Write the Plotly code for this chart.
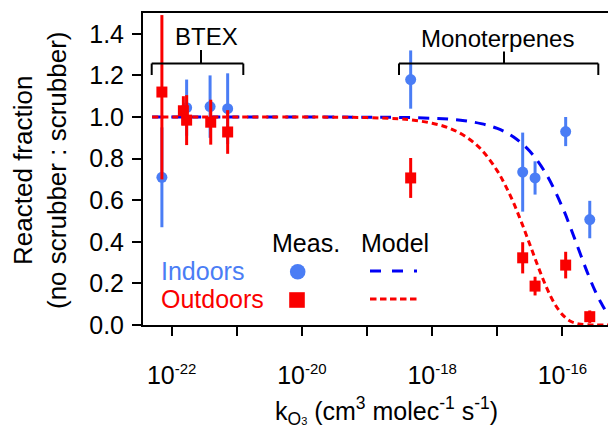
import plotly.graph_objects as go

# ---------------- data ----------------
# rate constants given as log10(k_O3)
indoor_logk = [-22.15, -21.77, -21.41, -21.14, -18.33, -16.61, -16.42, -15.95, -15.58]
indoor_val = [0.71, 1.045, 1.05, 1.04, 1.18, 0.735, 0.707, 0.93, 0.507]
indoor_err = [0.24, 0.135, 0.15, 0.17, 0.14, 0.19, 0.08, 0.07, 0.09]

outdoor_logk = [-22.15, -21.82, -21.77, -21.40, -21.14, -18.33, -16.61, -16.42, -15.95, -15.58]
outdoor_val = [1.12, 1.03, 0.985, 0.975, 0.928, 0.707, 0.323, 0.187, 0.288, 0.04]
outdoor_err_up = [0.37, 0.07, 0.12, 0.108, 0.105, 0.096, 0.075, 0.045, 0.064, 0.03]
outdoor_err_down = [0.42, 0.07, 0.12, 0.108, 0.105, 0.096, 0.075, 0.045, 0.064, 0.03]

model_in_logk = [-22.3, -20.0, -19.0, -18.5, -18.0, -17.75, -17.5, -17.25, -17.0, -16.75,
                 -16.5, -16.25, -16.0, -15.875, -15.75, -15.625, -15.5, -15.4, -15.3, -15.2]
model_in_val = [1.000, 1.000, 0.999, 0.998, 0.994, 0.990, 0.982, 0.968, 0.945, 0.904,
                0.835, 0.726, 0.566, 0.468, 0.363, 0.259, 0.165, 0.103, 0.052, 0.022]

model_out_logk = [-22.3, -20.0, -19.0, -18.5, -18.25, -18.0, -17.75, -17.5, -17.25, -17.0,
                  -16.875, -16.75, -16.625, -16.5, -16.375, -16.25, -16.125, -16.0,
                  -15.875, -15.75, -15.5, -15.2]
model_out_val = [1.000, 1.000, 0.997, 0.991, 0.983, 0.970, 0.948, 0.909, 0.845, 0.741,
                 0.670, 0.587, 0.491, 0.387, 0.282, 0.185, 0.105, 0.050,
                 0.018, 0.005, 0.000, 0.000]

x_tick_exp = [-22, -21, -20, -19, -18, -17, -16]
y_ticks = [0.0, 0.2, 0.4, 0.6, 0.8, 1.0, 1.2, 1.4]

# ---------------- styles ----------------
FONT = "Liberation Sans, Arial, Helvetica, sans-serif"
BLUE_PT = "rgb(74,125,245)"
BLUE_LN = "rgb(0,0,245)"
RED = "rgb(250,0,0)"

W, H = 608, 429
ML, MR, MT, MB = 143, 0, 13, 104
PW, PH = W - ML - MR, H - MT - MB


def px(xp):
    return (xp - ML) / PW


def py(yp):
    return (H - MB - yp) / PH


def tenpow(v):
    return [10 ** e for e in v]


fig = go.Figure()

fig.add_trace(go.Scatter(x=tenpow(model_in_logk), y=model_in_val, mode="lines",
                         line=dict(color=BLUE_LN, width=3, dash="11px,8px", shape="spline"),
                         showlegend=False, hoverinfo="skip"))
fig.add_trace(go.Scatter(x=tenpow(model_out_logk), y=model_out_val, mode="lines",
                         line=dict(color=RED, width=3, dash="6px,4px", shape="spline"),
                         showlegend=False, hoverinfo="skip"))
fig.add_trace(go.Scatter(x=tenpow(indoor_logk), y=indoor_val, mode="markers",
                         marker=dict(symbol="circle", size=11, color=BLUE_PT),
                         error_y=dict(type="data", array=indoor_err, thickness=3, width=0,
                                      color=BLUE_PT),
                         showlegend=False))
fig.add_trace(go.Scatter(x=tenpow(outdoor_logk), y=outdoor_val, mode="markers",
                         marker=dict(symbol="square", size=11, color=RED),
                         error_y=dict(type="data", array=outdoor_err_up,
                                      arrayminus=outdoor_err_down, symmetric=False,
                                      thickness=3, width=0, color=RED),
                         showlegend=False))

sup_style = "font-size:15px"
x_tick_text = [("10<sup><span style='%s'>%d</span></sup>" % (sup_style, e)) if e % 2 == 0 else ""
               for e in x_tick_exp]

fig.update_layout(
    width=W, height=H,
    margin=dict(l=ML, r=MR, t=MT, b=MB, pad=0, autoexpand=False),
    paper_bgcolor="white", plot_bgcolor="white",
    font=dict(family=FONT, size=25, color="black"),
    xaxis=dict(type="log", range=[-22.44, -15.30], automargin=False,
               tickvals=tenpow(x_tick_exp), ticktext=x_tick_text,
               ticks="outside", ticklen=9, tickwidth=2, tickcolor="black",
               showline=True, linewidth=2, linecolor="black", mirror=True,
               showgrid=False, zeroline=False,
               tickfont=dict(size=25), ticklabelstandoff=18),
    yaxis=dict(range=[0, 1.5], tickvals=y_ticks, automargin=False,
               ticktext=["%.1f" % v for v in y_ticks],
               ticks="outside", ticklen=9, tickwidth=2, tickcolor="black",
               showline=True, linewidth=2, linecolor="black",
               showgrid=False, zeroline=False,
               tickfont=dict(size=25), ticklabelstandoff=3),
)

shapes = []


def bracket(x0, x1, xc, yb, yend, ytop):
    return [
        dict(x0=px(x0), x1=px(x1), y0=py(yb), y1=py(yb)),
        dict(x0=px(x0), x1=px(x0), y0=py(yb), y1=py(yend)),
        dict(x0=px(x1), x1=px(x1), y0=py(yb), y1=py(yend)),
        dict(x0=px(xc), x1=px(xc), y0=py(yb), y1=py(ytop)),
    ]


for s in bracket(151.7, 243.3, 201, 63.5, 75, 50) + bracket(399, 598.3, 504, 63.5, 75, 51.5):
    s.update(type="line", xref="paper", yref="paper", line=dict(color="black", width=2))
    shapes.append(s)

# legend glyphs (paper coords)
r = 7.8
shapes.append(dict(type="circle", xref="paper", yref="paper",
                   x0=px(297.7 - r), x1=px(297.7 + r), y0=py(271.7 + r), y1=py(271.7 - r),
                   fillcolor=BLUE_PT, line=dict(width=0)))
shapes.append(dict(type="rect", xref="paper", yref="paper",
                   x0=px(297 - r), x1=px(297 + r), y0=py(300 + r), y1=py(300 - r),
                   fillcolor=RED, line=dict(width=0)))
shapes.append(dict(type="line", xref="paper", yref="paper",
                   x0=px(370), x1=px(417), y0=py(271), y1=py(271),
                   line=dict(color=BLUE_LN, width=3, dash="11px,11px")))
shapes.append(dict(type="line", xref="paper", yref="paper",
                   x0=px(370), x1=px(417), y0=py(299), y1=py(299),
                   line=dict(color=RED, width=3, dash="6.5px,3.5px")))
fig.update_layout(shapes=shapes)

ann = [
    dict(text="BTEX", x=px(206), y=py(37), font=dict(size=24)),
    dict(text="Monoterpenes", x=px(497), y=py(38), font=dict(size=24)),
    dict(text="Meas.", x=px(306), y=py(243), font=dict(size=25)),
    dict(text="Model", x=px(395), y=py(243), font=dict(size=25)),
    dict(text="Indoors", x=px(159), y=py(271), xanchor="left", font=dict(size=25, color=BLUE_PT)),
    dict(text="Outdoors", x=px(159), y=py(299), xanchor="left", font=dict(size=25, color=RED)),
    dict(text="Reacted fraction<br>(no scrubber : scrubber)", x=px(40), y=py(171),
         textangle=-90, font=dict(size=26)),
    dict(text="k<sub>O<span style='font-size:11px'>3</span></sub> (cm<sup>3</sup> molec<sup>-1</sup> s<sup>-1</sup>)",
         x=px(386), y=py(411), font=dict(size=25)),
]
for a in ann:
    a.setdefault("xanchor", "center")
    a.update(xref="paper", yref="paper", yanchor="middle", showarrow=False)
fig.update_layout(annotations=ann)

fig.write_html("out.html", config={"displayModeBar": False},
               post_script="document.body.style.margin='0';document.body.style.padding='0';")
